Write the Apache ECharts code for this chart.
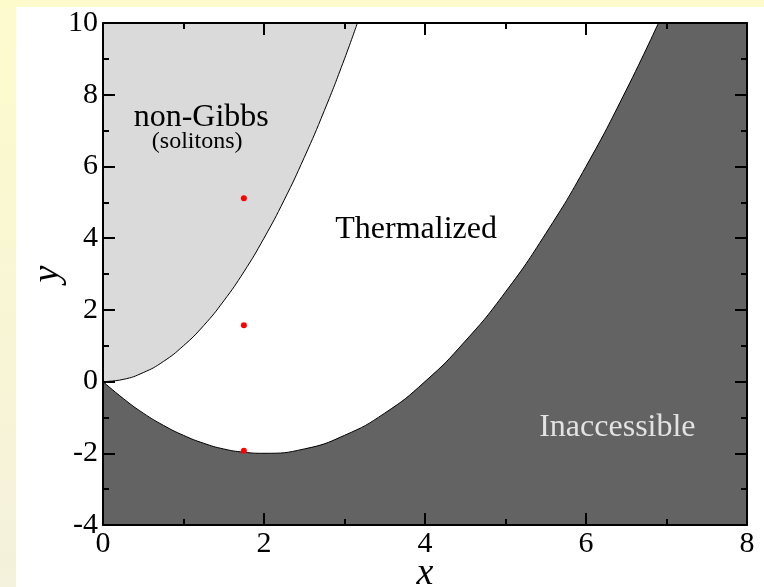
<!DOCTYPE html>
<html lang="en">
<head>
<meta charset="UTF-8">
<title>Phase diagram</title>
<style>
    html, body {margin: 0; padding: 0;}
    body {width: 764px; height: 587px; background: linear-gradient(to bottom, #fdfbcc, #f4f1dc); position: relative; overflow: hidden;}
    #main {position: absolute; left: 16px; top: 7px; width: 748px; height: 580px; background: #fff;}
</style>
</head>
<body>
<div id="main"></div>
<script src="https://cdn.jsdelivr.net/npm/echarts@6/dist/echarts.min.js"></script>
<script>
// upper boundary (non-Gibbs / thermalized)
var upperX = [0, 0.25, 0.5, 0.75, 1, 1.25, 1.5, 1.75, 2, 2.25, 2.5, 2.75, 3, 3.16];
var upperY = [0, 0.06, 0.25, 0.56, 1, 1.56, 2.25, 3.06, 4, 5.06, 6.25, 7.56, 9, 10];
// lower boundary (thermalized / inaccessible)
var lowerX = [0, 0.25, 0.5, 0.75, 1, 1.25, 1.5, 1.75, 2, 2.5, 3, 3.5, 4, 4.5, 5, 5.5, 6, 6.5, 6.9];
var lowerY = [0, -0.47, -0.88, -1.22, -1.5, -1.72, -1.88, -1.97, -2, -1.88, -1.5, -0.88, 0, 1.13, 2.5, 4.13, 6, 8.13, 10];
// red points
var dotX = [1.75, 1.75, 1.75];
var dotY = [5.11, 1.57, -1.93];
// region labels
var labelText = ['non-Gibbs', '(solitons)', 'Thermalized', 'Inaccessible'];
var labelX = [1.22, 1.17, 3.89, 6.39];
var labelY = [7.37, 6.70, 4.24, -1.29];

var labelSize = [32, 24, 32, 32];
var labelColor = ['#000', '#000', '#000', '#e2e2e2'];

function pairs(xs, ys) {
    var out = [];
    for (var i = 0; i < xs.length; i++) out.push([xs[i], ys[i]]);
    return out;
}

var myChart = echarts.init(document.getElementById('main'));

var serif = 'Liberation Serif';
function xAx(pos, showLabel) {
    return {
        type: 'value', position: pos, min: 0, max: 8, interval: 2, z: 5,
        axisLine: {show: true, onZero: false, lineStyle: {color: '#000', width: 2}},
        axisTick: {show: true, inside: true, length: 12, lineStyle: {color: '#000', width: 2}},
        minorTick: {show: true, splitNumber: 2, length: 6, lineStyle: {color: '#000', width: 2}},
        splitLine: {show: false},
        axisLabel: {show: showLabel, color: '#000', fontFamily: serif, fontSize: 30, margin: 4},
        name: showLabel ? 'x' : '', nameLocation: 'middle', nameGap: 30, nameMoveOverlap: false,
        nameTextStyle: {fontFamily: serif, fontStyle: 'italic', fontSize: 38, color: '#000'}
    };
}
function yAx(pos, showLabel) {
    return {
        type: 'value', position: pos, min: -4, max: 10, interval: 2, z: 5,
        axisLine: {show: true, onZero: false, lineStyle: {color: '#000', width: 2}},
        axisTick: {show: true, inside: true, length: 12, lineStyle: {color: '#000', width: 2}},
        minorTick: {show: true, splitNumber: 2, length: 6, lineStyle: {color: '#000', width: 2}},
        splitLine: {show: false},
        axisLabel: {show: showLabel, color: '#000', fontFamily: serif, fontSize: 30, margin: 5},
        name: showLabel ? 'y' : '', nameLocation: 'middle', nameGap: 36, nameRotate: 90, nameMoveOverlap: false,
        nameTextStyle: {fontFamily: serif, fontStyle: 'italic', fontSize: 38, color: '#000'}
    };
}

var labelSeries = [];
for (var i = 0; i < labelText.length; i++) {
    labelSeries.push({
        type: 'scatter',
        z: 10,
        silent: true,
        data: [{value: [labelX[i], labelY[i]], name: labelText[i]}],
        symbolSize: 1,
        itemStyle: {color: 'rgba(0,0,0,0)', opacity: 1},
        label: {
            show: true, position: 'inside', formatter: '{b}', opacity: 1,
            fontFamily: serif, fontSize: labelSize[i], color: labelColor[i]
        }
    });
}

var option = {
    animation: false,
    grid: {
        left: 87, top: 16, right: 17, bottom: 62,
        outerBoundsMode: 'none', containLabel: false,
        show: true, backgroundColor: '#636363', borderWidth: 0
    },
    xAxis: [xAx('bottom', true), xAx('top', false)],
    yAxis: [yAx('left', true), yAx('right', false)],
    series: [
        {
            type: 'line',
            z: 2,
            data: pairs(lowerX, lowerY),
            smooth: true,
            showSymbol: false,
            lineStyle: {color: '#000', width: 1},
            areaStyle: {origin: 'end', color: '#ffffff', opacity: 1}
        },
        {
            type: 'line',
            z: 3,
            data: pairs(upperX, upperY),
            smooth: true,
            showSymbol: false,
            lineStyle: {color: '#000', width: 1},
            areaStyle: {origin: 'end', color: '#dadada', opacity: 1}
        },
        {
            type: 'scatter',
            z: 10,
            data: pairs(dotX, dotY),
            symbolSize: 6,
            itemStyle: {color: '#ff0000', opacity: 1}
        }
    ].concat(labelSeries)
};

myChart.setOption(option);
</script>
</body>
</html>
